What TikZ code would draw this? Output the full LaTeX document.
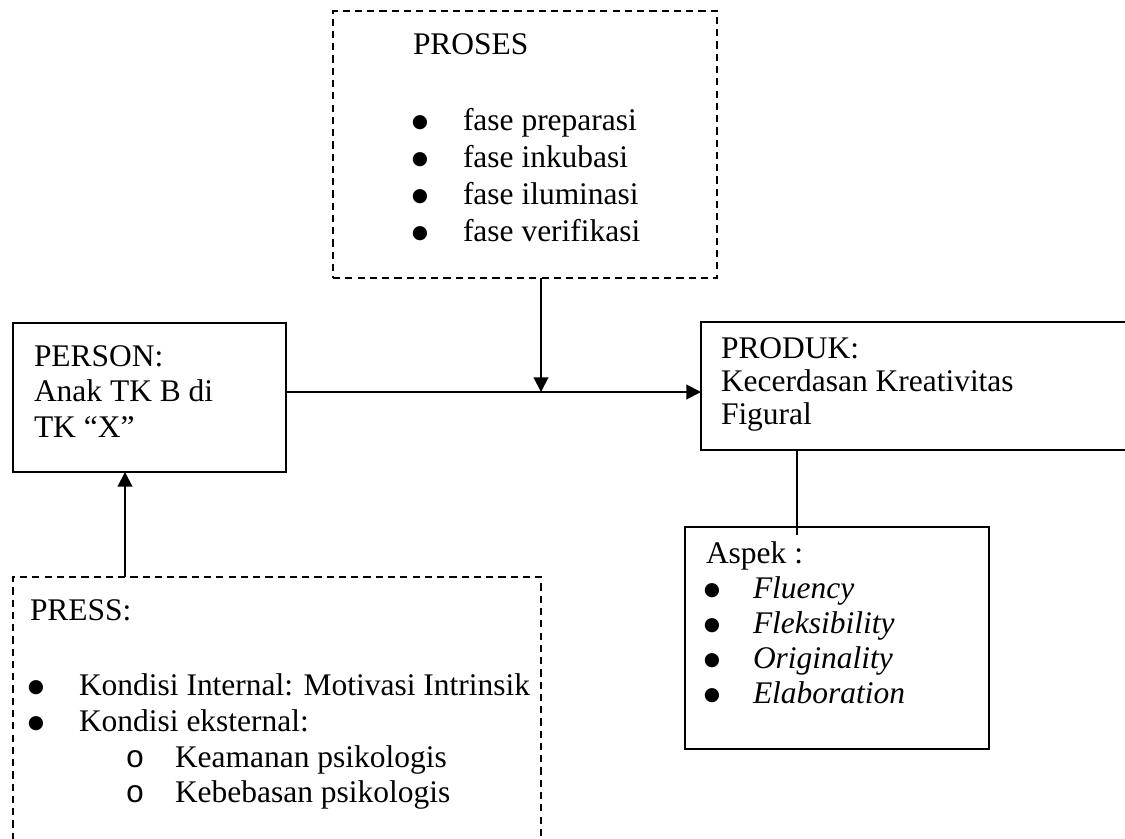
\documentclass[tikz,border=0pt]{standalone}
\usepackage{fontspec}
\setmainfont{Liberation Serif}
\newfontfamily\subbulletfont{Liberation Mono}
\newfontfamily\bulletfont{DejaVu Sans}
\usetikzlibrary{fit,arrows.meta}
\begin{document}
\begin{tikzpicture}[x=0.375pt,y=-0.375pt,
  every node/.style={font=\fontsize{11.8pt}{14pt}\selectfont, inner sep=0pt, outer sep=0pt},
  boxline/.style={draw, line width=0.75pt},
  dashbox/.style={boxline, dash pattern=on 2.7pt off 1.9pt},
  txt/.style={anchor=base west},
  bul/.style={anchor=center, yshift=2.6pt, font=\bulletfont\fontsize{7pt}{7pt}\selectfont},
  subbul/.style={anchor=base, font=\subbulletfont\fontsize{11.8pt}{14pt}\selectfont},
  conn/.style={line width=0.75pt},
  arr/.style={conn, -{Triangle[length=5.5pt,width=5.5pt]}}
]
\useasboundingbox (0,0) rectangle (1125,839);
\clip (0,0) rectangle (1125,839);

% boxes
\node[dashbox, fit={(333,11)(717,278)}] (proses) {};
\node[boxline, fit={(13,323)(286,472)}] (person) {};
\node[boxline, fit={(701,322)(1140,450)}] (produk) {};
\node[boxline, fit={(685,527)(989,749)}] (aspek) {};
\node[dashbox, fit={(13,577)(541,860)}] (press) {};

% connector points
\coordinate (join) at (541,392);
\coordinate (pressx) at (125,0);
\coordinate (aspx) at (797,0);
\coordinate (aspin) at (797,535);

\draw[arr] (proses.south -| join) -- (join);
\draw[arr] (person.east |- join) -- (produk.west |- join);
\draw[arr] (press.north -| pressx) -- (person.south -| pressx);
\draw[conn] (produk.south -| aspx) -- (aspin);

% PROSES
\node[txt] (tproses) at (413,55) {PROSES};
\node[bul] (pb1) at (420,130) {●};
\node[txt] (pt1) at (463,130) {fase preparasi};
\node[bul] (pb2) at (420,167) {●};
\node[txt] (pt2) at (463,167) {fase inkubasi};
\node[bul] (pb3) at (420,204) {●};
\node[txt] (pt3) at (463,204) {fase iluminasi};
\node[bul] (pb4) at (420,241) {●};
\node[txt] (pt4) at (463,241) {fase verifikasi};

% PERSON
\node[txt] (tperson1) at (34,366) {PERSON:};
\node[txt] (tperson2) at (34,401) {Anak TK B di};
\node[txt] (tperson3) at (34,437) {TK “X”};

% PRODUK
\node[txt] (tproduk1) at (721,358) {PRODUK:};
\node[txt] (tproduk2) at (721,391) {Kecerdasan Kreativitas};
\node[txt] (tproduk3) at (721,424) {Figural};

% Aspek
\node[txt] (taspek) at (706,563) {Aspek :};
\node[bul] (ab1) at (712,598) {●};
\node[txt] (at1) at (753,598) {\itshape Fluency};
\node[bul] (ab2) at (712,633) {●};
\node[txt] (at2) at (753,633) {\itshape Fleksibility};
\node[bul] (ab3) at (712,668) {●};
\node[txt] (at3) at (753,668) {\itshape Originality};
\node[bul] (ab4) at (712,703) {●};
\node[txt] (at4) at (753,703) {\itshape Elaboration};

% PRESS
\node[txt] (tpress) at (30,620) {PRESS:};
\node[bul] (sb1) at (36,695) {●};
\node[txt] (st1) at (79,695) {Kondisi Internal: Motivasi Intrinsik};
\node[bul] (sb2) at (36,731) {●};
\node[txt] (st2) at (79,731) {Kondisi eksternal:};
\node[subbul] (so1) at (135,767) {o};
\node[txt] (ss1) at (175,767) {Keamanan psikologis};
\node[subbul] (so2) at (135,802) {o};
\node[txt] (ss2) at (175,802) {Kebebasan psikologis};
\end{tikzpicture}
\end{document}
